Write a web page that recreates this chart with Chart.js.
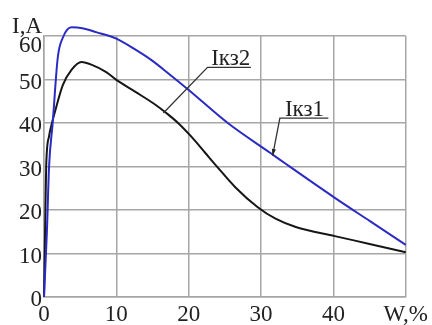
<!DOCTYPE html>
<html>
<head>
<meta charset="utf-8">
<script src="https://cdn.jsdelivr.net/npm/chart.js@4"></script>
<style>
  html, body { margin: 0; padding: 0; background: #fff; }
  #wrap { width: 432px; height: 325px; }
</style>
</head>
<body>
<div id="wrap"><canvas id="c" width="432" height="325"></canvas></div>
<script>
// Iкз1 (синяя) - ток КЗ от влажности W
const iks1W = [0, 0.4, 0.7, 1.2, 1.9, 2.6, 3.8, 5.3, 7.2, 10, 12.7, 14.9, 17.2, 20, 25.4, 31.3, 33.6, 40.2, 45, 50];
const iks1I = [0, 15, 30, 40, 55, 59.6, 62, 61.8, 60.9, 59.4, 56.8, 54.4, 51.4, 47.6, 40, 33.1, 30.4, 22.8, 17.5, 12];

// Iкз2 (чёрная)
const iks2W = [0, 0.15, 0.3, 0.7, 1.1, 1.5, 2.6, 3.8, 5.2, 6.7, 8.6, 10, 12.7, 15.4, 16.9, 18.6, 20.4, 22.3, 24, 26.4, 29.5, 32, 34.8, 40.2, 45, 50];
const iks2I = [0, 15, 30, 37, 40, 42.5, 48.7, 52.2, 54, 53.3, 51.7, 49.9, 47.1, 44.2, 42.3, 39.9, 36.8, 33.1, 29.8, 25.3, 20.7, 18, 16.1, 14, 12.2, 10.3];

const xTicks = [0, 10, 20, 30, 40, 50];
const yTicks = [0, 10, 20, 30, 40, 50, 60];
const xLastLabel = 'W,%';
const yAxisLabel = 'I,A';

const FONT = '"Liberation Serif", "Times New Roman", serif';
const GRID = '#a6a6a6';

const toPts = (xs, ys) => xs.map((x, i) => ({ x, y: ys[i] }));

// подписи кривых с выносками (в координатах данных)
const notes = [
    { text: 'Iкз2', tx: 23.1, ty: 53.3, ux1: 22.6, ux2: 28.6, uy: 52.8, px: 16.5, py: 42.3, arrow: false },
    { text: 'Iкз1', tx: 33.3, ty: 41.6, ux1: 32.6, ux2: 39.3, uy: 41.1, px: 31.6, py: 32.5, arrow: true },
];

const notesPlugin = {
    id: 'notes',
    afterDatasetsDraw(chart) {
        const { ctx, scales: { x, y } } = chart;
        ctx.save();
        ctx.font = '23px ' + FONT;
        ctx.fillStyle = '#222';
        ctx.strokeStyle = '#333';
        ctx.lineWidth = 1.3;
        notes.forEach(n => {
            ctx.textBaseline = 'alphabetic';
            ctx.textAlign = 'left';
            ctx.fillText(n.text, x.getPixelForValue(n.tx), y.getPixelForValue(n.ty));
            const ux1 = x.getPixelForValue(n.ux1), ux2 = x.getPixelForValue(n.ux2);
            const uy = y.getPixelForValue(n.uy);
            const px = x.getPixelForValue(n.px), py = y.getPixelForValue(n.py);
            ctx.beginPath();
            ctx.moveTo(ux2, uy);
            ctx.lineTo(ux1, uy);
            ctx.lineTo(px, py);
            ctx.stroke();
            if (n.arrow) {
                const a = Math.atan2(py - uy, px - ux1);
                ctx.beginPath();
                ctx.moveTo(px, py);
                ctx.lineTo(px - 7 * Math.cos(a - 0.3), py - 7 * Math.sin(a - 0.3));
                ctx.lineTo(px - 7 * Math.cos(a + 0.3), py - 7 * Math.sin(a + 0.3));
                ctx.closePath();
                ctx.fill();
            }
        });
        // подпись оси I,A и верхняя метка 60 (сдвинута вниз, как в оригинале)
        ctx.textAlign = 'left';
        ctx.fillText(yAxisLabel, 12, 33);
        ctx.textAlign = 'right';
        ctx.textBaseline = 'middle';
        ctx.fillText(String(yTicks[yTicks.length - 1]), 42, y.getPixelForValue(yTicks[yTicks.length - 1]) + 10);
        ctx.restore();
    },
};

new Chart(document.getElementById('c'), {
    type: 'line',
    data: {
        datasets: [
            {
                label: 'Iкз1',
                data: toPts(iks1W, iks1I),
                borderColor: '#2b2bc4',
                borderWidth: 2,
                pointRadius: 0,
                cubicInterpolationMode: 'monotone',
                clip: false,
            },
            {
                label: 'Iкз2',
                data: toPts(iks2W, iks2I),
                borderColor: '#161616',
                borderWidth: 2,
                pointRadius: 0,
                cubicInterpolationMode: 'monotone',
                clip: false,
            },
        ],
    },
    options: {
        responsive: false,
        animation: false,
        layout: { padding: { top: 36, right: 22, left: 0, bottom: 0 } },
        plugins: { legend: { display: false }, tooltip: { enabled: false } },
        scales: {
            x: {
                type: 'linear',
                min: 0,
                max: 50,
                afterBuildTicks: s => { s.ticks = xTicks.map(v => ({ value: v })); },
                afterFit: s => { s.height = 28; },
                grid: { color: GRID, lineWidth: 1.5, drawTicks: false },
                border: { color: GRID, width: 1.5 },
                ticks: {
                    padding: 4,
                    color: '#222',
                    font: { family: FONT, size: 23 },
                    maxRotation: 0,
                    callback: v => (v === 50 ? xLastLabel : String(v)),
                },
            },
            y: {
                min: 0,
                max: 60,
                afterBuildTicks: s => { s.ticks = yTicks.map(v => ({ value: v })); },
                afterFit: s => { s.width = 44; },
                grid: { color: GRID, lineWidth: 1.5, drawTicks: false },
                border: { color: GRID, width: 1.5 },
                ticks: {
                    padding: 2,
                    labelOffset: 3,
                    color: '#222',
                    font: { family: FONT, size: 23 },
                    callback: v => (v === 60 ? '' : String(v)),
                },
            },
        },
    },
    plugins: [notesPlugin],
});
</script>
</body>
</html>
